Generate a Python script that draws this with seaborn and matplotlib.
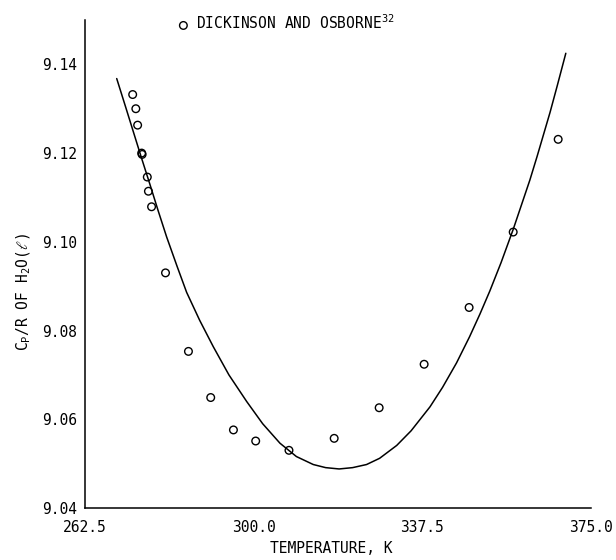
import matplotlib
matplotlib.use("Agg")
import matplotlib.pyplot as plt
import seaborn as sns
import pandas as pd

# ---- data ----
temp_obs = [273.1, 273.8, 274.2, 275.1, 275.2, 276.35, 276.6, 277.3, 280.4,
            285.5, 290.45, 295.5, 300.45, 307.85, 317.9, 327.9, 337.9,
            347.9, 357.7, 367.7]
cp_obs = [9.1332, 9.1300, 9.1263, 9.1200, 9.1197, 9.1146, 9.1114, 9.1079,
          9.0930, 9.0753, 9.0649, 9.0576, 9.0551, 9.0530, 9.0557, 9.0626,
          9.0724, 9.0852, 9.1022, 9.1231]

temp_fit = [269.55, 271.5, 273.25, 275.0, 276.95, 278.8, 280.65, 283.0,
            285.1, 288.0, 291.0, 294.5, 298.45, 302.0, 305.85, 309.5, 313.25,
            316.0, 319.0, 322.0, 325.1, 328.0, 331.8, 335.0, 339.2, 342.0,
            345.1, 348.0, 350.3, 352.5, 355.0, 357.7, 361.4, 363.0, 365.9,
            367.5, 369.4]
cp_fit = [9.1368, 9.1305, 9.1248, 9.1191, 9.1129, 9.1069, 9.1011, 9.0944,
          9.0886, 9.0823, 9.0764, 9.0700, 9.0640, 9.0590, 9.0546, 9.0516,
          9.0498, 9.0491, 9.0488, 9.0491, 9.0498, 9.0512, 9.0541, 9.0574,
          9.0628, 9.0672, 9.0727, 9.0786, 9.0837, 9.0889, 9.0953, 9.1028,
          9.1139, 9.1192, 9.1292, 9.1352, 9.1425]

x_ticks = [262.5, 275.0, 287.5, 300.0, 312.5, 325.0, 337.5, 350.0, 362.5, 375.0]
x_ticklabels = ["262.5", "", "", "300.0", "", "", "337.5", "", "", "375.0"]
y_ticks = [9.04, 9.05, 9.06, 9.07, 9.08, 9.09, 9.10, 9.11, 9.12, 9.13, 9.14, 9.15]
y_ticklabels = ["9.04", "", "9.06", "", "9.08", "", "9.10", "", "9.12", "", "9.14", ""]

legend_label = "DICKINSON AND OSBORNE$^{32}$"
x_label = "TEMPERATURE, K"
y_label = "C$_P$/R OF H$_2$O($\\ell$)"

obs = pd.DataFrame({"T": temp_obs, "Cp": cp_obs})
fit = pd.DataFrame({"T": temp_fit, "Cp": cp_fit})

sns.set_theme(style="white")
plt.rcParams["font.family"] = ["DejaVu Sans Mono", "DejaVu Sans"]
plt.rcParams["mathtext.default"] = "regular"

fig = plt.figure(figsize=(6.16, 5.6), dpi=100)
ax = fig.add_axes([85 / 616, (560 - 508) / 560, (591 - 85) / 616, (508 - 20) / 560])

sns.lineplot(data=fit, x="T", y="Cp", sort=False, color="black", lw=1.1, ax=ax)
sns.scatterplot(data=obs, x="T", y="Cp", marker="o", s=30, facecolors="none",
                edgecolor="black", linewidth=1.0, ax=ax, label=legend_label)

ax.set_xlim(262.5, 375.0)
ax.set_ylim(9.04, 9.15)
ax.set_xticks(x_ticks)
ax.set_xticklabels(x_ticklabels)
ax.set_yticks(y_ticks)
ax.set_yticklabels(y_ticklabels)
ax.tick_params(axis="both", direction="in", length=5, width=1.0, color="black",
               labelsize=10.5, labelcolor="black")
ax.tick_params(axis="x", pad=9)
ax.tick_params(axis="y", pad=6)

for side in ["top", "right"]:
    ax.spines[side].set_visible(False)
for side in ["left", "bottom"]:
    ax.spines[side].set_color("black")
    ax.spines[side].set_linewidth(1.1)

ax.set_xlabel(x_label, fontsize=10.5, color="black")
ax.set_ylabel(y_label, fontsize=10.5, color="black")
ax.xaxis.set_label_coords(0.486, -0.068)
ax.yaxis.set_label_coords(-0.102, 0.443)

leg = ax.legend(loc="center left", bbox_to_anchor=(0.18, 0.994), frameon=False,
                borderpad=0, handlelength=1.0, handletextpad=0.4, fontsize=10.5,
                borderaxespad=0)
for t in leg.get_texts():
    t.set_color("black")

fig.savefig("out.png", dpi=100)
